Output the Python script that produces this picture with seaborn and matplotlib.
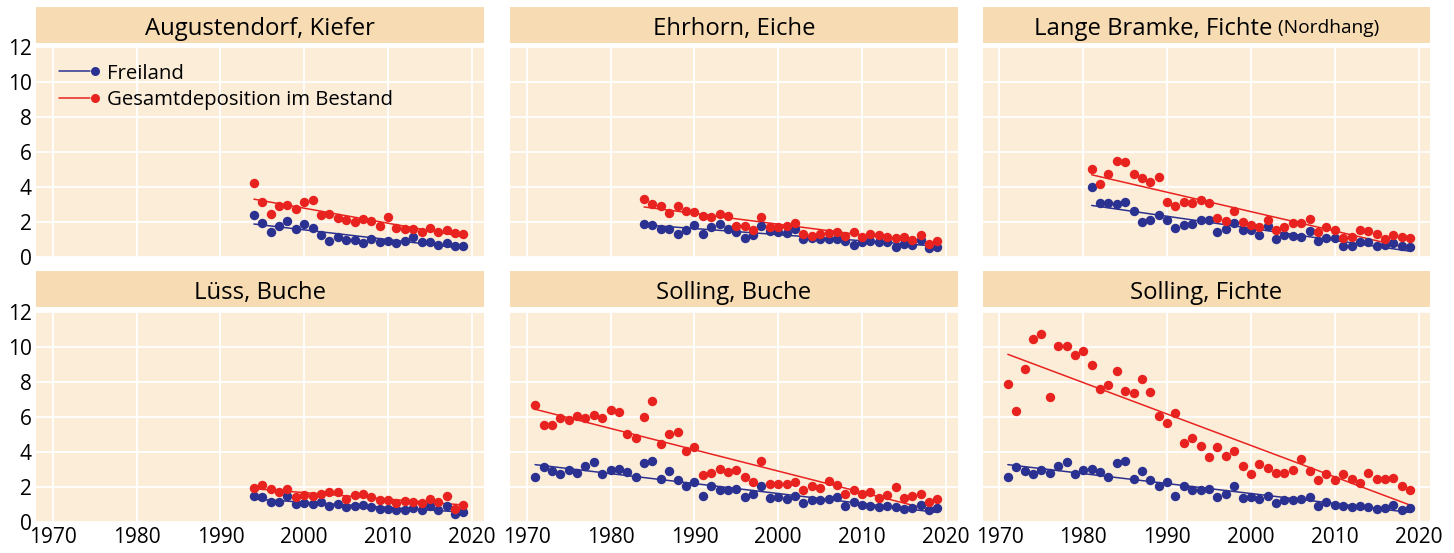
import numpy as np
import matplotlib
matplotlib.use("Agg")
import matplotlib.pyplot as plt
import seaborn as sns
from matplotlib.lines import Line2D
from matplotlib.patches import Rectangle
from matplotlib.legend_handler import HandlerLine2D

# ---------------------------------------------------------------------------
# Annual deposition series (Freiland = open field, Bestand = total deposition
# below the canopy), one value per year
# ---------------------------------------------------------------------------
aug_years = np.arange(1994, 2020)
aug_freiland = [2.40, 1.96, 1.45, 1.79, 2.10, 1.62, 1.90, 1.70, 1.28, 0.91,
                1.14, 0.97, 0.97, 0.84, 1.05, 0.90, 0.95, 0.82, 0.95, 1.14,
                0.86, 0.86, 0.72, 0.84, 0.67, 0.63]
aug_bestand = [4.25, 3.16, 2.50, 2.91, 3.01, 2.76, 3.16, 3.26, 2.40, 2.50,
               2.25, 2.15, 2.00, 2.21, 2.08, 1.77, 2.29, 1.70, 1.60, 1.64,
               1.45, 1.70, 1.45, 1.54, 1.41, 1.33]

ehr_years = np.arange(1984, 2020)
ehr_freiland = [1.92, 1.83, 1.64, 1.64, 1.35, 1.58, 1.85, 1.31, 1.71, 1.89,
                1.64, 1.45, 1.12, 1.30, 1.81, 1.52, 1.47, 1.39, 1.60, 1.03,
                1.12, 1.07, 1.07, 1.07, 0.93, 0.69, 0.90, 0.95, 0.90, 0.86,
                0.59, 0.76, 0.72, 0.99, 0.55, 0.59]
ehr_bestand = [3.33, 3.05, 2.95, 2.55, 2.95, 2.67, 2.57, 2.36, 2.29, 2.50,
               2.36, 1.81, 1.81, 1.58, 2.30, 1.73, 1.73, 1.81, 1.96, 1.33,
               1.24, 1.33, 1.37, 1.45, 1.24, 1.43, 1.18, 1.31, 1.26, 1.18,
               1.12, 1.14, 0.97, 1.30, 0.78, 0.91]

lb_years = np.arange(1981, 2020)
lb_freiland = [4.02, 3.10, 3.12, 3.05, 3.16, 2.67, 2.00, 2.15, 2.44, 2.15,
               1.68, 1.87, 1.90, 2.11, 2.11, 1.47, 1.62, 1.96, 1.54, 1.54,
               1.28, 1.81, 1.05, 1.26, 1.24, 1.16, 1.49, 0.95, 1.12, 1.12,
               0.67, 0.63, 0.88, 0.90, 0.67, 0.72, 0.80, 0.63, 0.57]
lb_bestand = [5.05, 4.19, 4.78, 5.49, 5.43, 4.74, 4.51, 4.32, 4.59, 3.14,
              2.91, 3.16, 3.12, 3.30, 3.10, 2.23, 2.06, 2.63, 2.04, 1.85,
              1.73, 2.11, 1.54, 1.71, 1.96, 1.98, 2.17, 1.47, 1.75, 1.58,
              1.12, 1.14, 1.54, 1.50, 1.33, 1.05, 1.28, 1.14, 1.10]

lues_years = np.arange(1994, 2020)
lues_freiland = [1.47, 1.41, 1.14, 1.14, 1.50, 1.05, 1.10, 1.05, 1.14, 0.95,
                 1.05, 0.86, 0.93, 0.97, 0.88, 0.74, 0.74, 0.70, 0.70, 0.80,
                 0.67, 0.90, 0.70, 0.95, 0.46, 0.57]
lues_bestand = [1.98, 2.13, 1.89, 1.73, 1.89, 1.41, 1.54, 1.47, 1.60, 1.70,
                1.70, 1.31, 1.54, 1.60, 1.41, 1.24, 1.24, 1.10, 1.22, 1.14,
                1.10, 1.33, 1.14, 1.47, 0.76, 0.97]

sol_years = np.arange(1971, 2020)
sol_freiland = [2.56, 3.16, 2.90, 2.75, 3.00, 2.82, 3.20, 3.44, 2.76, 2.98,
                3.02, 2.84, 2.60, 3.39, 3.52, 2.44, 2.90, 2.39, 2.08, 2.29,
                1.52, 2.05, 1.83, 1.82, 1.88, 1.44, 1.63, 2.07, 1.39, 1.46,
                1.35, 1.52, 1.12, 1.25, 1.24, 1.31, 1.43, 0.95, 1.18, 0.99,
                0.95, 0.87, 0.90, 0.87, 0.76, 0.79, 1.00, 0.71, 0.80]
sol_buche_bestand = [6.67, 5.56, 5.56, 5.94, 5.85, 6.04, 5.94, 6.13, 5.94, 6.42,
                     6.32, 5.05, 4.80, 6.00, 6.90, 4.46, 5.05, 5.16, 4.08, 4.32,
                     2.67, 2.80, 3.03, 2.88, 2.99, 2.57, 2.29, 3.50, 2.19, 2.19,
                     2.17, 2.32, 1.83, 2.08, 1.94, 2.38, 2.11, 1.62, 1.85, 1.62,
                     1.73, 1.37, 1.54, 2.02, 1.37, 1.50, 1.60, 1.18, 1.33]
sol_fichte_bestand = [7.89, 6.33, 8.73, 10.48, 10.78, 7.17, 10.06, 10.06, 9.54, 9.79,
                      8.97, 7.60, 7.85, 8.65, 7.49, 7.41, 8.21, 7.43, 6.05, 5.68,
                      6.25, 4.54, 4.79, 4.37, 3.75, 4.32, 3.80, 4.07, 3.19, 2.74,
                      3.33, 3.10, 2.81, 2.83, 2.98, 3.63, 2.91, 2.41, 2.78, 2.41,
                      2.78, 2.47, 2.24, 2.79, 2.49, 2.47, 2.51, 2.09, 1.86]

titles = ["Augustendorf, Kiefer", "Ehrhorn, Eiche", "Lange Bramke, Fichte",
          "Lüss, Buche", "Solling, Buche", "Solling, Fichte"]
title_suffix = [None, None, "(Nordhang)", None, None, None]
series = [
    (aug_years, aug_freiland, aug_bestand),
    (ehr_years, ehr_freiland, ehr_bestand),
    (lb_years, lb_freiland, lb_bestand),
    (lues_years, lues_freiland, lues_bestand),
    (sol_years, sol_freiland, sol_buche_bestand),
    (sol_years, sol_freiland, sol_fichte_bestand),
]
legend_labels = ["Freiland", "Gesamtdeposition im Bestand"]
y_ticks = [0, 2, 4, 6, 8, 10, 12]
x_ticks = [1970, 1980, 1990, 2000, 2010, 2020]

# ---------------------------------------------------------------------------
# Style
# ---------------------------------------------------------------------------
sns.set_theme(style="whitegrid")
plt.rcParams["font.family"] = ["Open Sans", "DejaVu Sans"]

BLUE = "#2b3190"
RED = "#e8231f"
STRIP = "#f7dcb3"
PANEL = "#fcedd9"
TICK_FS = 15
LEGEND_FS = 14.7
TITLE_FS = 17.2

W, H = 1454, 553
fig = plt.figure(figsize=(W / 100, H / 100), dpi=100)

col_left = [36, 510, 982.7]
ax_w = 447.6
rows = [(46.7, 257.7), (311.7, 522.5)]
strip_rows = [(7, 42.7), (271, 306.7)]


def fig_rect(x0, y_top, w, y_bot):
    return [x0 / W, 1 - y_bot / H, w / W, (y_bot - y_top) / H]


class LineDotHandler(HandlerLine2D):
    """Legend key: a short line followed by a dot at its right end."""

    def create_artists(self, legend, orig_handle, xdescent, ydescent,
                       width, height, fontsize, trans):
        y = height / 2 - ydescent
        x0 = -xdescent
        r = orig_handle.get_markersize() * 0.5
        line = Line2D([x0, x0 + width - 2 * r], [y, y],
                      color=orig_handle.get_color(),
                      lw=orig_handle.get_linewidth())
        dot = Line2D([x0 + width - r], [y], ls="none", marker="o",
                     ms=orig_handle.get_markersize(),
                     color=orig_handle.get_color(), mec="none")
        line.set_transform(trans)
        dot.set_transform(trans)
        return [line, dot]


axes = []
for i, (title, suffix, (yrs, free, stand)) in enumerate(zip(titles, title_suffix, series)):
    r, c = divmod(i, 3)
    top, bot = rows[r]
    ax = fig.add_axes(fig_rect(col_left[c], top, ax_w, bot))
    ax.set_facecolor(PANEL)
    for sp in ax.spines.values():
        sp.set_visible(False)

    for vals, color, z in ((free, BLUE, 3), (stand, RED, 4)):
        sns.regplot(x=yrs, y=vals, ax=ax, ci=None, color=color, truncate=True,
                    scatter_kws=dict(s=46, linewidths=0, alpha=1, zorder=z),
                    line_kws=dict(lw=1.1, zorder=2))

    ax.set_xlim(1968.0, 2021.4)
    ax.set_ylim(-0.02, 12.03)
    ax.set_xticks(x_ticks)
    ax.set_yticks(y_ticks)
    ax.grid(True, color="white", lw=1.3)
    ax.set_axisbelow(True)
    ax.tick_params(length=0, labelsize=TICK_FS, colors="black", pad=3)
    ax.set_xlabel("")
    ax.set_ylabel("")
    if c != 0:
        ax.set_yticklabels([])
    if r != 1:
        ax.set_xticklabels([])

    # title strip above the panel
    s_top, s_bot = strip_rows[r]
    fig.add_artist(Rectangle((col_left[c] / W, 1 - s_bot / H), ax_w / W,
                             (s_bot - s_top) / H, transform=fig.transFigure,
                             facecolor=STRIP, edgecolor="none"))
    cx = (col_left[c] + ax_w / 2) / W
    cy = 1 - ((s_top + s_bot) / 2 + 1) / H
    t = fig.text(cx, cy, title, ha="center", va="center_baseline",
                 fontsize=TITLE_FS, color="black")
    if suffix:
        fig.canvas.draw()
        rend = fig.canvas.get_renderer()
        t2 = fig.text(cx, cy, " " + suffix, ha="left", va="center_baseline",
                      fontsize=TITLE_FS * 0.8, color="black")
        w1 = t.get_window_extent(rend).width
        w2 = t2.get_window_extent(rend).width
        left_px = cx * W - (w1 + w2) / 2
        t.set_ha("left")
        t.set_x(left_px / W)
        t2.set_x((left_px + w1) / W)
    axes.append(ax)

# legend in the first panel
handles = [Line2D([], [], color=BLUE, lw=1.1, marker="o", ms=6.5),
           Line2D([], [], color=RED, lw=1.1, marker="o", ms=6.5)]
axes[0].legend(handles, legend_labels, loc="upper left",
               bbox_to_anchor=(0.007, 1.012), frameon=False, fontsize=LEGEND_FS,
               labelcolor="black",
               handlelength=2.0, handletextpad=0.35, labelspacing=0.33,
               borderaxespad=0.55,
               handler_map={Line2D: LineDotHandler()})

fig.savefig("out.png", dpi=100, facecolor="white")
